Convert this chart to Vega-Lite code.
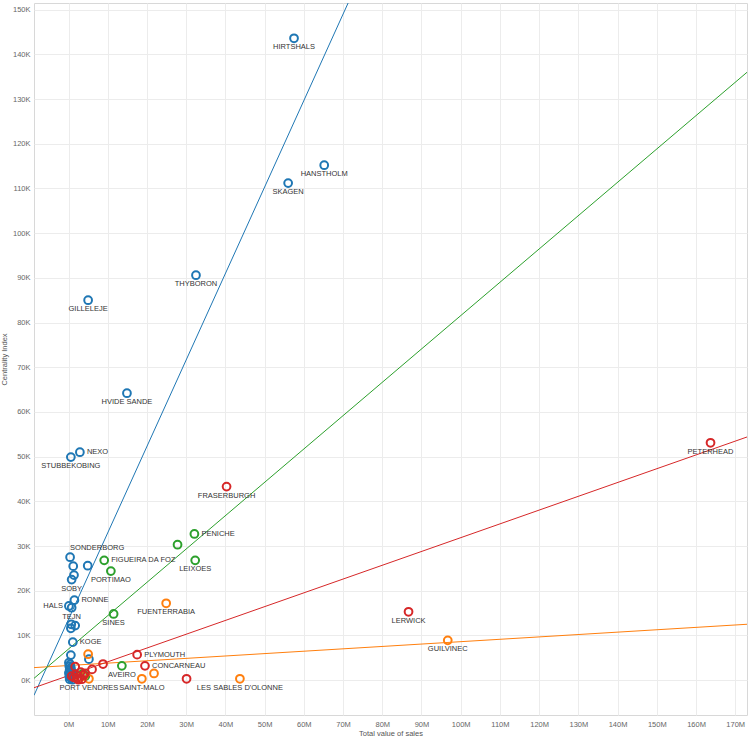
{
  "$schema": "https://vega.github.io/schema/vega-lite/v6.json",
  "autosize": {"type": "none"},
  "width": 713,
  "height": 712,
  "padding": {"left": 34, "top": 3, "right": 3, "bottom": 25},
  "background": "white",
  "config": {
    "view": {"stroke": "#d8d8d8"},
    "font": "Liberation Sans",
    "axis": {
      "domain": false,
      "ticks": false,
      "gridColor": "#ececec",
      "labelFont": "Liberation Sans",
      "labelFontSize": 7.5,
      "labelColor": "#666666",
      "titleFont": "Liberation Sans",
      "titleFontSize": 7.5,
      "titleFontWeight": "normal",
      "titleColor": "#555555"
    }
  },
  "datasets": {
    "ports": [
      {"group": "A", "port": "HIRTSHALS", "sales": 57500000, "centrality": 143600},
      {"group": "A", "port": "HANSTHOLM", "sales": 65200000, "centrality": 115200},
      {"group": "A", "port": "SKAGEN", "sales": 56000000, "centrality": 111200},
      {"group": "A", "port": "THYBORON", "sales": 32500000, "centrality": 90600},
      {"group": "A", "port": "GILLELEJE", "sales": 5000000, "centrality": 85000},
      {"group": "A", "port": "HVIDE SANDE", "sales": 14900000, "centrality": 64200},
      {"group": "A", "port": "NEXO", "sales": 2900000, "centrality": 51000},
      {"group": "A", "port": "STUBBEKOBING", "sales": 600000, "centrality": 49900},
      {"group": "A", "port": "SONDERBORG", "sales": 400000, "centrality": 27500},
      {"group": "A", "sales": 1200000, "centrality": 25500},
      {"group": "A", "sales": 4900000, "centrality": 25600},
      {"group": "A", "sales": 1400000, "centrality": 23500},
      {"group": "A", "port": "SOBY", "sales": 800000, "centrality": 22500},
      {"group": "A", "port": "RONNE", "sales": 1500000, "centrality": 17900},
      {"group": "A", "port": "HALS", "sales": 100000, "centrality": 16600},
      {"group": "A", "port": "TEJN", "sales": 800000, "centrality": 16200},
      {"group": "A", "sales": 700000, "centrality": 12500},
      {"group": "A", "sales": 1700000, "centrality": 12200},
      {"group": "A", "sales": 600000, "centrality": 11600},
      {"group": "A", "port": "KOGE", "sales": 1100000, "centrality": 8500},
      {"group": "A", "sales": 600000, "centrality": 5600},
      {"group": "A", "sales": 5200000, "centrality": 4700},
      {"group": "A", "sales": 100000, "centrality": 3900},
      {"group": "A", "sales": 400000, "centrality": 3500},
      {"group": "A", "sales": 200000, "centrality": 3100},
      {"group": "A", "sales": 600000, "centrality": 2800},
      {"group": "A", "sales": 300000, "centrality": 2400},
      {"group": "A", "sales": 800000, "centrality": 2000},
      {"group": "A", "sales": 100000, "centrality": 1600},
      {"group": "A", "sales": 500000, "centrality": 1200},
      {"group": "A", "sales": 200000, "centrality": 800},
      {"group": "A", "sales": 700000, "centrality": 500},
      {"group": "A", "sales": 300000, "centrality": 200},
      {"group": "A", "sales": 1000000, "centrality": 100},
      {"group": "A", "sales": 1300000, "centrality": 600},
      {"group": "A", "sales": 1600000, "centrality": 1000},
      {"group": "C", "port": "PENICHE", "sales": 32100000, "centrality": 32700},
      {"group": "C", "sales": 27800000, "centrality": 30300},
      {"group": "C", "port": "LEIXOES", "sales": 32300000, "centrality": 26800},
      {"group": "C", "port": "FIGUEIRA DA FOZ", "sales": 9100000, "centrality": 26800},
      {"group": "C", "port": "PORTIMAO", "sales": 10800000, "centrality": 24400},
      {"group": "C", "port": "SINES", "sales": 11500000, "centrality": 14800},
      {"group": "C", "port": "AVEIRO", "sales": 13600000, "centrality": 3200},
      {"group": "C", "sales": 4300000, "centrality": 900},
      {"group": "C", "sales": 3600000, "centrality": 1400},
      {"group": "B", "port": "GUILVINEC", "sales": 96700000, "centrality": 8900},
      {"group": "B", "port": "FUENTERRABIA", "sales": 24900000, "centrality": 17200},
      {"group": "B", "port": "LES SABLES D'OLONNE", "sales": 43700000, "centrality": 300},
      {"group": "B", "port": "SAINT-MALO", "sales": 18700000, "centrality": 300},
      {"group": "B", "sales": 21800000, "centrality": 1500},
      {"group": "B", "sales": 5000000, "centrality": 5800},
      {"group": "B", "port": "PORT VENDRES", "sales": 5200000, "centrality": 300},
      {"group": "B", "sales": 3900000, "centrality": 900},
      {"group": "B", "sales": 2800000, "centrality": 500},
      {"group": "D", "port": "PETERHEAD", "sales": 163700000, "centrality": 53100},
      {"group": "D", "port": "FRASERBURGH", "sales": 40300000, "centrality": 43300},
      {"group": "D", "port": "LERWICK", "sales": 86700000, "centrality": 15300},
      {"group": "D", "port": "PLYMOUTH", "sales": 17500000, "centrality": 5700},
      {"group": "D", "port": "CONCARNEAU", "sales": 19500000, "centrality": 3200},
      {"group": "D", "sales": 30100000, "centrality": 300},
      {"group": "D", "sales": 8800000, "centrality": 3600},
      {"group": "D", "sales": 6000000, "centrality": 2400},
      {"group": "D", "sales": 1700000, "centrality": 3000},
      {"group": "D", "sales": 3100000, "centrality": 1800},
      {"group": "D", "sales": 3800000, "centrality": 1100},
      {"group": "D", "sales": 1900000, "centrality": 1300},
      {"group": "D", "sales": 1400000, "centrality": 600},
      {"group": "D", "sales": 3400000, "centrality": 200},
      {"group": "D", "sales": 2500000, "centrality": 100},
      {"group": "D", "sales": 800000, "centrality": 900},
      {"group": "D", "sales": 2100000, "centrality": 400},
      {"group": "D", "sales": 4200000, "centrality": 1500}
    ],
    "trends": [
      {"group": "A", "sales": -8800000, "centrality": -3400},
      {"group": "A", "sales": 173000000, "centrality": 348200},
      {"group": "B", "sales": -8800000, "centrality": 2800},
      {"group": "B", "sales": 173000000, "centrality": 12500},
      {"group": "C", "sales": -8800000, "centrality": 400},
      {"group": "C", "sales": 173000000, "centrality": 136000},
      {"group": "D", "sales": -8800000, "centrality": -1700},
      {"group": "D", "sales": 173000000, "centrality": 54400}
    ]
  },
  "encoding": {
    "x": {
      "field": "sales", "type": "quantitative",
      "scale": {"domain": [-8800000, 173000000], "nice": false, "zero": false},
      "axis": {
        "title": "Total value of sales",
        "values": [0, 10000000, 20000000, 30000000, 40000000, 50000000, 60000000, 70000000, 80000000, 90000000, 100000000, 110000000, 120000000, 130000000, 140000000, 150000000, 160000000, 170000000],
        "labelExpr": "format(datum.value / 1000000, 'd') + 'M'",
        "labelPadding": 5,
        "titlePadding": 2
      }
    },
    "y": {
      "field": "centrality", "type": "quantitative",
      "scale": {"domain": [-7800, 151500], "nice": false, "zero": false},
      "axis": {
        "title": "Centrality Index",
        "values": [0, 10000, 20000, 30000, 40000, 50000, 60000, 70000, 80000, 90000, 100000, 110000, 120000, 130000, 140000, 150000],
        "labelExpr": "format(datum.value / 1000, 'd') + 'K'",
        "labelPadding": 4,
        "titlePadding": 4
      }
    },
    "color": {
      "field": "group", "type": "nominal",
      "scale": {"domain": ["A", "B", "C", "D"], "range": ["#1f77b4", "#ff7f0e", "#2ca02c", "#d62728"]},
      "legend": null
    }
  },
  "layer": [
    {
      "mark": {"type": "rule", "strokeDash": [1, 2], "color": "#777777", "strokeWidth": 1},
      "encoding": {"x": {"datum": 0}, "y": null, "color": null}
    },
    {
      "mark": {"type": "rule", "strokeDash": [1, 2], "color": "#777777", "strokeWidth": 1},
      "encoding": {"y": {"datum": 0}, "x": null, "color": null}
    },
    {
      "data": {"name": "trends"},
      "mark": {"type": "line", "clip": true, "strokeWidth": 1},
      "encoding": {"detail": {"field": "group"}}
    },
    {
      "data": {"name": "ports"},
      "mark": {"type": "point", "filled": false, "size": 60, "strokeWidth": 2, "opacity": 1}
    },
    {
      "data": {"name": "ports"},
      "transform": [{"filter": {"field": "port", "oneOf": ["HIRTSHALS", "HANSTHOLM", "SKAGEN", "THYBORON", "GILLELEJE", "HVIDE SANDE", "STUBBEKOBING", "FRASERBURGH", "PETERHEAD", "LERWICK", "GUILVINEC", "FUENTERRABIA", "SINES", "LEIXOES", "PORTIMAO", "SOBY", "AVEIRO", "LES SABLES D'OLONNE", "TEJN", "SAINT-MALO", "PORT VENDRES"]}}],
      "mark": {"type": "text", "dy": 9, "align": "center", "baseline": "middle", "fontSize": 7.5, "font": "Liberation Sans", "color": "#333333"},
      "encoding": {"text": {"field": "port"}, "color": null}
    },
    {
      "data": {"name": "ports"},
      "transform": [{"filter": {"field": "port", "oneOf": ["NEXO", "RONNE", "KOGE", "FIGUEIRA DA FOZ", "PENICHE", "PLYMOUTH", "CONCARNEAU"]}}],
      "mark": {"type": "text", "dx": 7, "align": "left", "baseline": "middle", "fontSize": 7.5, "font": "Liberation Sans", "color": "#333333"},
      "encoding": {"text": {"field": "port"}, "color": null}
    },
    {
      "data": {"name": "ports"},
      "transform": [{"filter": {"field": "port", "equal": "HALS"}}],
      "mark": {"type": "text", "dx": -6, "align": "right", "baseline": "middle", "fontSize": 7.5, "font": "Liberation Sans", "color": "#333333"},
      "encoding": {"text": {"field": "port"}, "color": null}
    },
    {
      "data": {"name": "ports"},
      "transform": [{"filter": {"field": "port", "equal": "SONDERBORG"}}],
      "mark": {"type": "text", "dy": -9, "align": "left", "baseline": "middle", "fontSize": 7.5, "font": "Liberation Sans", "color": "#333333"},
      "encoding": {"text": {"field": "port"}, "color": null}
    }
  ]
}
